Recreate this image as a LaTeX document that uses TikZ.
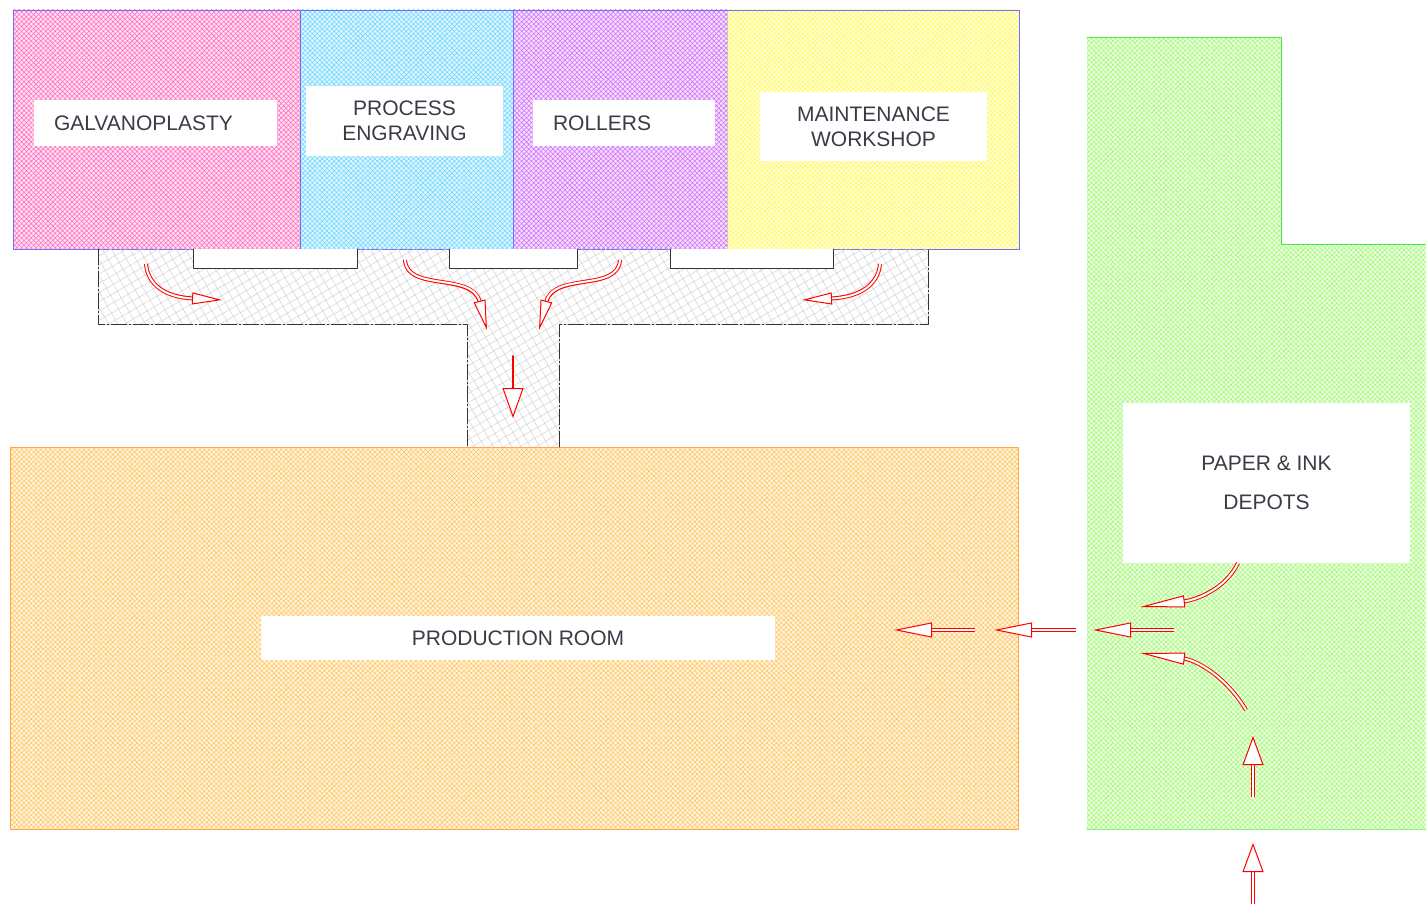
\documentclass[tikz,border=0pt]{standalone}
\usepackage{fontspec}
\setmainfont{Liberation Sans}
\usetikzlibrary{arrows.meta,patterns.meta}
\definecolor{galvc}{RGB}{255,110,190}
\definecolor{engrc}{RGB}{110,215,255}
\definecolor{rollc}{RGB}{210,110,250}
\definecolor{maintc}{RGB}{255,250,90}
\definecolor{prodc}{RGB}{255,200,100}
\definecolor{paperc}{RGB}{165,250,120}
\definecolor{wall}{RGB}{110,110,255}
\definecolor{ink}{RGB}{55,60,70}
% hollow red flow arrow: tip length, tip width, path
\newcommand\flowarrow[3]{%
  \draw[red, line width=4pt, line cap=butt, shorten >=#1-1pt] #3;
  \draw[white, line width=2pt, line cap=butt, -{Triangle[color=red, fill=white, line width=1pt, length=#1, width=#2]}] #3;}
\begin{document}
\begin{tikzpicture}[x=1pt,y=-1pt, font=\fontsize{21}{25}\selectfont, line join=round, line cap=round,
  room/.style={preaction={fill=#1!22!white}, pattern={Hatch[angle=45,distance=3.4pt,line width=0.55pt]}, pattern color=#1},
  tag/.style={fill=white, text=ink, inner sep=0pt, align=center}]
\useasboundingbox (0,0) rectangle (1426,904);
% rooms
\path[room=galvc] (13,10) rectangle (300,249);
\path[room=engrc] (300,10) rectangle (513,249);
\path[room=rollc] (513,10) rectangle (727,249);
\path[room=maintc] (727,10) rectangle (1019,249);
\draw[wall, line width=0.8pt] (13,10) rectangle (1019,249);
\draw[wall, line width=0.8pt] (300,10) -- (300,249) (513,10) -- (513,249);
\draw[wall!60!maintc, densely dotted] (727,10) -- (727,249);
\path[room=prodc] (10,447) rectangle (1018,829);
\draw[orange!70, line width=0.8pt] (10,447) rectangle (1018,829);
\path[room=paperc] (1087,38) -- (1281,38) -- (1281,244) -- (1426,244) -- (1426,829) -- (1087,829) -- cycle;
\draw[green!85!black!70, line width=1pt] (1087,38) -- (1281,38) -- (1281,244) -- (1426,244) (1426,829) -- (1087,829) -- cycle;
% corridor
\path[pattern={Hatch[angle=30,distance=8pt,line width=0.5pt]}, pattern color=gray!35] (98,249) -- (98,324) -- (467,324) -- (467,447) -- (559,447) -- (559,324) -- (928,324) -- (928,249) -- cycle;
\draw[gray!40!black, line width=0.8pt, dash pattern=on 16pt off 2pt on 2pt off 2pt] (98,249) -- (98,324) -- (467,324) -- (467,447) (559,447) -- (559,324) -- (928,324) -- (928,249);
\foreach \a/\b in {193/357, 449/577, 670/833}
  \draw[fill=white, draw=gray!40!black, line width=0.8pt] (\a,249) -- (\a,268) -- (\b,268) -- (\b,249);
% labels
\node[tag, minimum width=243pt, minimum height=46pt, text width=203pt, align=left] (galv) at (155.5,123) {GALVANOPLASTY};
\node[tag, minimum width=197pt, minimum height=70pt] (engr) at (404.5,121) {PROCESS\\ENGRAVING};
\node[tag, minimum width=182pt, minimum height=46pt, text width=142pt, align=left] (roll) at (624,123) {ROLLERS};
\node[tag, minimum width=227pt, minimum height=69pt] (maint) at (873.5,126.5) {MAINTENANCE\\WORKSHOP};
\node[tag, minimum width=514pt, minimum height=44pt] (prod) at (518,638) {PRODUCTION ROOM};
\node[tag, minimum width=287pt, minimum height=160pt] (paper) at (1266.5,483) {PAPER \& INK\\[14pt]DEPOTS};
% flows
\flowarrow{30pt}{12pt}{(146,264) .. controls (148,285) and (165,297) .. (222,300)}
\flowarrow{30pt}{12pt}{(405,260) .. controls (407,292) and (472,272) .. (487,330)}
\flowarrow{30pt}{12pt}{(620,260) .. controls (618,292) and (554,272) .. (539,330)}
\flowarrow{30pt}{12pt}{(880,264) .. controls (878,285) and (860,297) .. (802,300)}
\draw[red, line width=2pt, -{Triangle[fill=white, line width=1pt, length=30pt, width=21pt]}] (513,356) -- (513,418);
\flowarrow{38pt}{15pt}{(975,630) -- (894,630)}
\flowarrow{38pt}{15pt}{(1076,630) -- (994,630)}
\flowarrow{38pt}{15pt}{(1174,630) -- (1093,630)}
\flowarrow{45pt}{12pt}{(1238,563) .. controls (1225,590) and (1195,600) .. (1140,607)}
\flowarrow{45pt}{12pt}{(1246,710) .. controls (1225,675) and (1195,660) .. (1140,653)}
\flowarrow{29pt}{21pt}{(1253,797) -- (1253,736)}
\flowarrow{29pt}{21pt}{(1253,910) -- (1253,843)}
\end{tikzpicture}
\end{document}
